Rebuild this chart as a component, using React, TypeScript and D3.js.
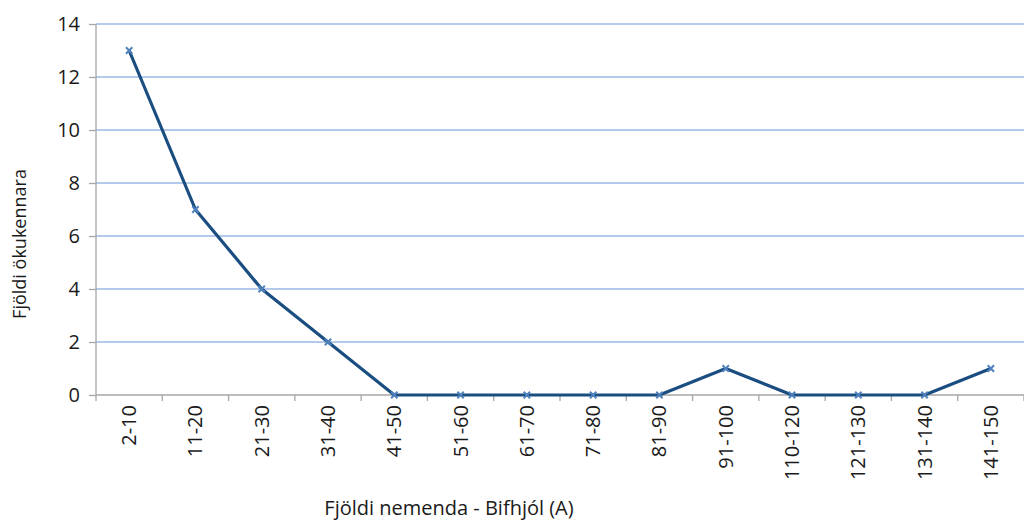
import { useEffect, useRef } from 'react'
import * as d3 from 'd3'

const categories = ['2-10', '11-20', '21-30', '31-40', '41-50', '51-60', '61-70', '71-80', '81-90', '91-100', '110-120', '121-130', '131-140', '141-150']
const counts = [13, 7, 4, 2, 0, 0, 0, 0, 0, 1, 0, 0, 0, 1]
const yTicks = [0, 2, 4, 6, 8, 10, 12, 14]

const FONT = '"Open Sans", "Noto Sans", sans-serif'

export default function App() {
  const svgRef = useRef<SVGSVGElement>(null)

  useEffect(() => {
    if (!svgRef.current) return
    const svg = d3.select(svgRef.current)
    svg.selectAll('*').remove()

    const W = 1024
    const H = 520
    const m = { top: 24, right: 0, bottom: 125, left: 96 }
    const innerW = W - m.left - m.right
    const innerH = H - m.top - m.bottom

    const g = svg.append('g').attr('transform', `translate(${m.left},${m.top})`)

    const x = d3.scaleBand().domain(categories).range([0, innerW])
    const y = d3.scaleLinear().domain([0, 14]).range([innerH, 0])

    // gridlines
    g.append('g')
      .selectAll('line')
      .data(yTicks.filter(t => t > 0))
      .join('line')
      .attr('x1', 0).attr('x2', innerW)
      .attr('y1', d => y(d)).attr('y2', d => y(d))
      .attr('stroke', '#9bb9e3')
      .attr('stroke-width', 1.3)

    // y axis
    g.append('g')
      .call(d3.axisLeft(y).tickValues(yTicks).tickSize(7).tickPadding(9))
      .call(ax => ax.select('.domain').attr('stroke', '#a6a6a6').attr('stroke-width', 1.3).attr('d', `M0,${innerH}V0`))
      .call(ax => ax.selectAll('line').attr('stroke', '#a6a6a6').attr('stroke-width', 1.3))
      .call(ax => ax.selectAll('text').attr('fill', '#1a1a1a').attr('font-size', 20).attr('font-family', FONT))

    // x axis with ticks at band boundaries
    const xa = g.append('g').attr('transform', `translate(0,${innerH})`)
    xa.append('line')
      .attr('x1', 0).attr('x2', innerW)
      .attr('stroke', '#a6a6a6').attr('stroke-width', 1.3)
    const bounds = categories.map(c => x(c) as number).concat([innerW])
    xa.selectAll('line.tk')
      .data(bounds)
      .join('line')
      .attr('class', 'tk')
      .attr('x1', d => d).attr('x2', d => d)
      .attr('y1', 0).attr('y2', 6)
      .attr('stroke', '#a6a6a6').attr('stroke-width', 1.3)
    xa.selectAll('text')
      .data(categories)
      .join('text')
      .attr('transform', d => `translate(${(x(d) as number) + x.bandwidth() / 2},${10}) rotate(-90)`)
      .attr('text-anchor', 'end')
      .attr('dy', '0.35em')
      .attr('fill', '#1a1a1a')
      .attr('font-size', 20)
      .attr('font-family', FONT)
      .text(d => d)

    // line
    const line = d3.line<number>()
      .x((_, i) => (x(categories[i]) as number) + x.bandwidth() / 2)
      .y(d => y(d))
    g.append('path')
      .datum(counts)
      .attr('d', line)
      .attr('fill', 'none')
      .attr('stroke', '#1a4d80')
      .attr('stroke-width', 3.2)
      .attr('stroke-linejoin', 'round')

    // markers
    const star = d3.symbol().type(d3.symbolX).size(28)
    g.selectAll('path.mk')
      .data(counts)
      .join('path')
      .attr('class', 'mk')
      .attr('d', star)
      .attr('transform', (d, i) => `translate(${(x(categories[i]) as number) + x.bandwidth() / 2},${y(d)})`)
      .attr('fill', 'none')
      .attr('stroke', '#4f81bd')
      .attr('stroke-width', 2)

    // axis titles
    svg.append('text')
      .attr('x', 449).attr('y', 515)
      .attr('text-anchor', 'middle')
      .attr('fill', '#1a1a1a')
      .attr('font-size', 20)
      .attr('font-family', FONT)
      .text('Fjöldi nemenda - Bifhjól (A)')

    svg.append('text')
      .attr('transform', `translate(26,244) rotate(-90)`)
      .attr('text-anchor', 'middle')
      .attr('fill', '#1a1a1a')
      .attr('font-size', 18)
      .attr('font-family', FONT)
      .text('Fjöldi ökukennara')
  }, [])

  return (
    <div style={{ position: 'absolute', left: 0, top: 0, width: 1024, height: 520, background: '#fff' }}>
      <svg ref={svgRef} width={1024} height={520} style={{ display: 'block' }} />
    </div>
  )
}
